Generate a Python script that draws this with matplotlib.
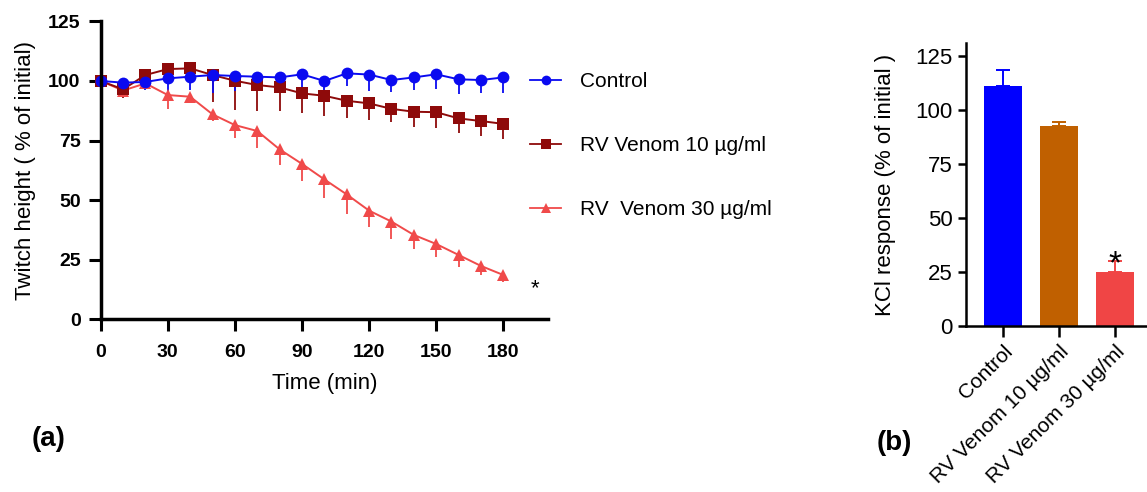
import numpy as np
import matplotlib.pyplot as plt
from matplotlib.lines import Line2D

# ------------------------------------------------------------
# Data
# ------------------------------------------------------------

time_min = [0, 10, 20, 30, 40, 50, 60, 70, 80, 90, 100, 110, 120, 130, 140, 150, 160, 170, 180]

control_mean = [100, 99.3, 99.6, 101.1, 101.8, 102.5, 102.1, 101.8, 101.5, 102.8, 100.0,
                103.2, 102.7, 100.4, 101.5, 102.8, 100.7, 100.4, 101.5]
control_err = [0, 2.0, 3.5, 6.4, 5.5, 7.4, 6.2, 6.0, 4.6, 7.3, 4.0,
               5.5, 6.7, 5.0, 5.3, 6.3, 6.2, 5.3, 6.4]

rv10_mean = [100, 96.5, 102.5, 105.0, 105.3, 102.5, 100.1, 98.3, 97.3, 94.8, 93.8,
             91.7, 90.6, 88.3, 87.1, 86.9, 84.3, 83.2, 82.0]
rv10_err = [0, 3.8, 1.0, 2.0, 2.0, 11.2, 12.2, 10.8, 9.8, 8.1, 8.4,
            7.4, 7.1, 5.7, 6.3, 6.7, 6.0, 6.4, 6.2]

rv30_mean = [100, 96.0, 99.0, 94.1, 93.4, 86.0, 81.5, 79.0, 71.3, 65.2, 58.7,
             52.4, 45.6, 41.0, 35.4, 31.6, 27.0, 22.4, 18.6]
rv30_err = [0, 2.0, 1.5, 6.0, 1.0, 2.8, 5.6, 7.0, 6.6, 7.0, 7.6,
            8.4, 6.7, 7.3, 6.0, 5.6, 4.9, 3.8, 3.1]

bar_labels = ["Control", "RV Venom 10 µg/ml", "RV Venom 30 µg/ml"]
bar_means = [111.3, 92.6, 24.8]
bar_err = [7.2, 2.0, 5.2]

# ------------------------------------------------------------
# Styles
# ------------------------------------------------------------

C_CONTROL = "#0A0AF0"
C_RV10 = "#8E0A0A"
C_RV30 = "#F04A4A"
BAR_COLORS = ["#0000FF", "#C06000", "#F04545"]

plt.rcParams["font.family"] = ["Liberation Sans", "DejaVu Sans"]

fig = plt.figure(figsize=(11.47, 4.92), dpi=100)

# ------------------------------------------------------------
# (a) Time course
# ------------------------------------------------------------

ax = fig.add_axes([0.0878, 0.351, 0.39, 0.6055])

series = [
    (control_mean, control_err, C_CONTROL, "o", 8.5, "Control"),
    (rv10_mean, rv10_err, C_RV10, "s", 8.0, "RV Venom 10 µg/ml"),
    (rv30_mean, rv30_err, C_RV30, "^", 8.5, "RV  Venom 30 µg/ml"),
]

handles = []
for mean, err, color, marker, msize, label in reversed(series):
    lower = np.array(err)
    ax.errorbar(time_min, mean, yerr=[lower, np.zeros_like(lower)],
                color=color, ecolor=color, elinewidth=1.3, capsize=4.5,
                capthick=1.3, lw=1.4, marker=marker, markersize=msize,
                markeredgewidth=0, clip_on=False)

for mean, err, color, marker, msize, label in series:
    handles.append(Line2D([], [], color=color, marker=marker, markersize=7,
                          markeredgewidth=0, lw=1.3, label=label))

ax.set_xlim(0, 200)
ax.set_ylim(0, 125)
ax.set_xticks(range(0, 181, 30))
ax.set_yticks([0, 25, 50, 75, 100, 125])
ax.tick_params(labelsize=14, width=2.2, length=8.5, direction="out")
ax.tick_params(axis="x", pad=9)
ax.tick_params(axis="y", pad=6)
for lbl in ax.get_xticklabels() + ax.get_yticklabels():
    lbl.set_fontweight("bold")
ax.spines["top"].set_visible(False)
ax.spines["right"].set_visible(False)
ax.spines["left"].set_linewidth(2.5)
ax.spines["bottom"].set_linewidth(2.5)
ax.set_xlabel("Time (min)", fontsize=16, labelpad=9)
ax.set_ylabel("Twitch height ( % of initial)", fontsize=16, labelpad=9)

ax.text(194, 13, "*", fontsize=16, ha="center", va="center")

ax.legend(handles=handles, loc="center left",
          bbox_to_anchor=(0.462, 0.704), bbox_transform=fig.transFigure,
          frameon=False, fontsize=15, labelspacing=2.15, handlelength=1.5,
          handletextpad=0.9, borderpad=0, borderaxespad=0)

fig.text(0.028, 0.108, "(a)", fontsize=20, fontweight="bold", va="center")

# ------------------------------------------------------------
# (b) KCl response
# ------------------------------------------------------------

bx = fig.add_axes([0.842, 0.3374, 0.158, 0.5752])
x_pos = np.arange(len(bar_labels))
bx.bar(x_pos, bar_means, width=0.68, color=BAR_COLORS)
for xi, m, e, c in zip(x_pos, bar_means, bar_err, BAR_COLORS):
    bx.errorbar(xi, m, yerr=[[0], [e]], color=c, capsize=5, elinewidth=1.4,
                capthick=1.4)

bx.text(2, 28.5, "*", fontsize=24, ha="center", va="center")

bx.set_xlim(-0.66, 2.57)
bx.set_ylim(0, 131)
bx.set_yticks([0, 25, 50, 75, 100, 125])
bx.set_xticks(x_pos)
bx.set_xticklabels(bar_labels, rotation=45, ha="right", rotation_mode="anchor")
bx.tick_params(axis="y", labelsize=16, width=1.8, length=6, direction="out")
bx.tick_params(axis="x", labelsize=15, width=1.8, length=8, direction="out")
bx.spines["top"].set_visible(False)
bx.spines["right"].set_visible(False)
bx.spines["left"].set_linewidth(1.8)
bx.spines["bottom"].set_linewidth(1.8)
bx.set_ylabel("KCl response (% of initial )", fontsize=16, labelpad=14)

fig.text(0.764, 0.1, "(b)", fontsize=20, fontweight="bold", va="center")

fig.savefig("out.png", dpi=100)
